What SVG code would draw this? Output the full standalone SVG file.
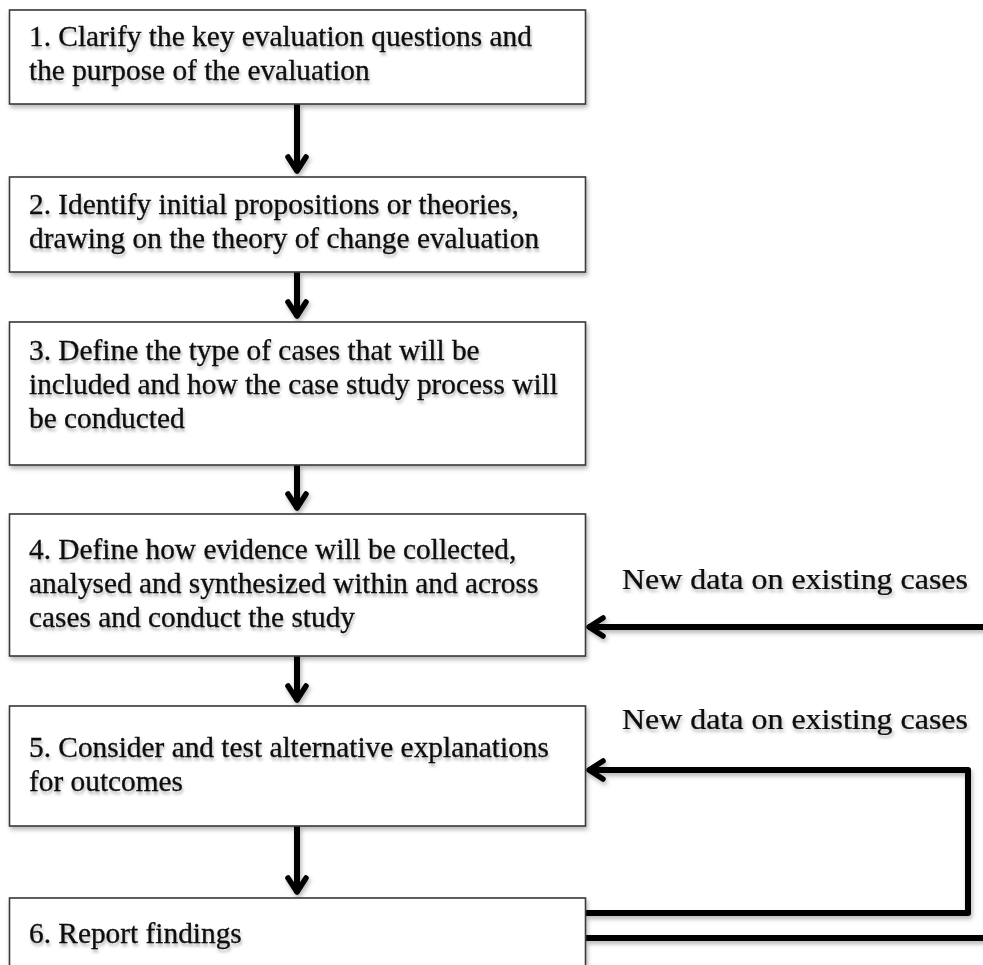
<svg xmlns="http://www.w3.org/2000/svg" width="983" height="965" viewBox="0 0 983 965">
  <style>
    .box { fill: #ffffff; stroke: #3a3a3a; stroke-width: 1.6; filter: url(#soft); }
    .txt { font-family: "Liberation Serif", "Times New Roman", serif; font-size: 28.5px; fill: #0a0a0a; stroke: #0a0a0a; stroke-width: 0.25; filter: url(#textShadow); }
    .lbl { font-family: "Liberation Serif", "Times New Roman", serif; font-size: 30px; fill: #0a0a0a; stroke: #0a0a0a; stroke-width: 0.25; filter: url(#textShadow); }
    .line { fill: none; stroke: #000000; stroke-width: 6; stroke-linejoin: round; }
  </style>
  <defs>
    <filter id="soft" filterUnits="userSpaceOnUse" x="0" y="0" width="983" height="965">
      <feDropShadow dx="1.5" dy="3" stdDeviation="2" flood-color="#000000" flood-opacity="0.28"/>
    </filter>
    <filter id="textShadow" x="-5%" y="-30%" width="115%" height="170%">
      <feDropShadow dx="1" dy="3" stdDeviation="1.8" flood-color="#000000" flood-opacity="0.3"/>
    </filter>
    <marker id="head" markerUnits="userSpaceOnUse" viewBox="-20 -14 24 28" refX="0" refY="0" markerWidth="24" markerHeight="28" orient="auto" overflow="visible">
      <path d="M-15,-9 L-1,0 L-15,9" fill="none" stroke="#000000" stroke-width="5.5" stroke-linejoin="round" stroke-linecap="round"/>
    </marker>
  </defs>

  <!-- connectors -->
  <g id="connectors" filter="url(#soft)">
    <path class="line" d="M297,104 V172" marker-end="url(#head)"/>
    <path class="line" d="M297,272 V317" marker-end="url(#head)"/>
    <path class="line" d="M297,465 V509" marker-end="url(#head)"/>
    <path class="line" d="M297,656 V701" marker-end="url(#head)"/>
    <path class="line" d="M297,826 V893" marker-end="url(#head)"/>
    <!-- feedback from the report to the evidence step -->
    <path class="line" d="M986,627 H588" marker-end="url(#head)"/>
    <!-- feedback loop from the report to step 5 -->
    <path class="line" d="M586,913 H968 V770 H588" marker-end="url(#head)"/>
    <path class="line" d="M586,938 H986"/>
  </g>
  <g id="labels">
    <text class="lbl" transform="translate(622 589) scale(1.065 1)">New data on existing cases</text>
    <text class="lbl" transform="translate(622 729) scale(1.065 1)">New data on existing cases</text>
  </g>

  <g id="step1">
    <rect class="box" x="9.5" y="10" width="576" height="94"/>
    <g transform="translate(29 0) scale(1.03 1)">
      <text class="txt" y="46">1. Clarify the key evaluation questions and</text>
      <text class="txt" y="80">the purpose of the evaluation</text>
    </g>
  </g>

  <g id="step2">
    <rect class="box" x="9.5" y="177" width="576" height="95"/>
    <g transform="translate(29 0) scale(1.03 1)">
      <text class="txt" y="214">2. Identify initial propositions or theories,</text>
      <text class="txt" y="248">drawing on the theory of change evaluation</text>
    </g>
  </g>

  <g id="step3">
    <rect class="box" x="9.5" y="322" width="576" height="143"/>
    <g transform="translate(29 0) scale(1.03 1)">
      <text class="txt" y="360">3. Define the type of cases that will be</text>
      <text class="txt" y="394">included and how the case study process will</text>
      <text class="txt" y="428">be conducted</text>
    </g>
  </g>

  <g id="step4">
    <rect class="box" x="9.5" y="514" width="576" height="142"/>
    <g transform="translate(29 0) scale(1.03 1)">
      <text class="txt" y="559">4. Define how evidence will be collected,</text>
      <text class="txt" y="593">analysed and synthesized within and across</text>
      <text class="txt" y="627">cases and conduct the study</text>
    </g>
  </g>

  <g id="step5">
    <rect class="box" x="9.5" y="706" width="576" height="120"/>
    <g transform="translate(29 0) scale(1.03 1)">
      <text class="txt" y="757">5. Consider and test alternative explanations</text>
      <text class="txt" y="791">for outcomes</text>
    </g>
  </g>

  <g id="step6">
    <rect class="box" x="9.5" y="898" width="576" height="90"/>
    <g transform="translate(29 0) scale(1.03 1)">
      <text class="txt" y="943">6. Report findings</text>
    </g>
  </g>
</svg>
